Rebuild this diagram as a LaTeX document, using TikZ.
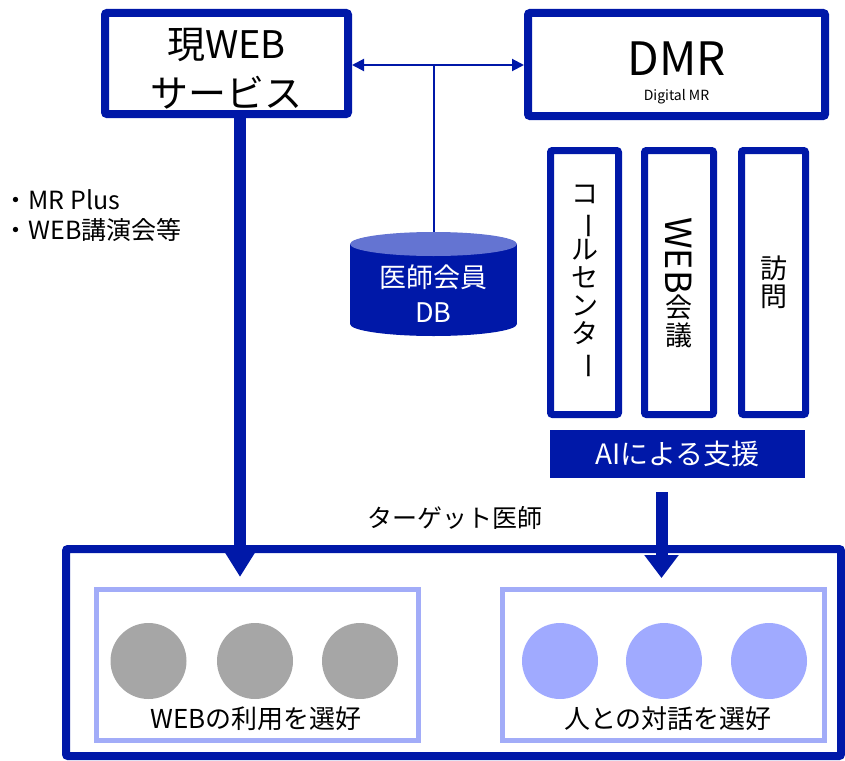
\documentclass[tikz,border=0pt]{standalone}
\usepackage{fontspec}
\setmainfont{Noto Sans CJK JP}
\usepackage{graphicx}
\usepackage{xcolor}
\usepackage{tikz}
\usetikzlibrary{arrows}
\usetikzlibrary{arrows.meta}

\definecolor{dmrblue}{HTML}{0018A8}
\definecolor{dbtop}{HTML}{6474D2}
\definecolor{paleblue}{HTML}{A2ACF8}
\definecolor{dotblue}{HTML}{A0AAFF}
\definecolor{dotgray}{HTML}{A6A6A6}

\begin{document}
\begin{tikzpicture}[x=1pt, y=-1pt,
    mainbox/.style={draw=dmrblue, line width=8pt, rounded corners=2pt, inner sep=0pt},
    channel/.style={draw=dmrblue, line width=7pt, rounded corners=2pt, minimum width=#1, minimum height=264pt, inner sep=0pt, align=center, font=\fontsize{27}{28}\selectfont},
    group/.style={draw=paleblue, line width=5pt, minimum width=322pt, minimum height=151pt, inner sep=0pt},
    person/.style={circle, minimum size=76pt, inner sep=0pt},
    fat/.style={dmrblue, line width=12pt}]
    \useasboundingbox (0,0) rectangle (845,760);

    % top row
    \node[mainbox, minimum width=243pt, minimum height=101pt] (web) at (226.5,63.5) {};
    \node[align=center, font=\fontsize{38}{49}\selectfont] (webname) at (226.5,69) {現WEB\\サービス};
    \node[mainbox, minimum width=297pt, minimum height=103pt] (dmr) at (676.5,64.5) {};
    \node[font=\fontsize{46}{46}\selectfont] (dmrname) at (676.5,59) {DMR};
    \node[font=\fontsize{14}{14}\selectfont] (dmrsub) at (676.5,97) {Digital MR};

    \node[anchor=west, align=left, font=\fontsize{25}{30}\selectfont] (services) at (0,216) {・MR Plus\\・WEB講演会等};

    % database
    \coordinate (hub) at (433.5,65);
    \coordinate (dbtop) at (433.5,232);
    \fill[dmrblue] (350,244) rectangle (517,324);
    \fill[dmrblue] (433.5,324) ellipse [x radius=83.5, y radius=12];
    \fill[dbtop] (433.5,244) ellipse [x radius=83.5, y radius=12];
    \node[white, align=center, font=\fontsize{27}{35}\selectfont] (db) at (433.5,294) {医師会員\\DB};

    \draw[dmrblue, line width=2pt, {Triangle[length=12pt,width=12pt]}-{Triangle[length=12pt,width=12pt]}] (web.east |- hub) -- (dmr.west |- hub);
    \draw[dmrblue, line width=2pt] (hub) -- (dbtop);

    % channels
    \node[channel=68pt] (call) at (584.5,282.5) {コ\\\rotatebox[origin=c]{-90}{ー}\\ル\\セ\\ン\\タ\\\rotatebox[origin=c]{-90}{ー}};
    \node[channel=69pt] (meeting) at (679,282.5) {\rotatebox[origin=c]{-90}{\fontsize{36}{36}\selectfont WEB}\\会\\議};
    \node[channel=64pt] (visit) at (773.5,282.5) {訪\\問};
    \node[fill=dmrblue, text=white, minimum width=255pt, minimum height=48pt, inner sep=0pt, font=\fontsize{28}{28}\selectfont] (ai) at (677.5,454) {AIによる支援};

    % target doctors
    \node[font=\fontsize{25}{25}\selectfont] (target) at (455,518) {ターゲット医師};
    \node[mainbox, minimum width=775pt, minimum height=207pt] (doctors) at (453.5,652.5) {};
    \node[group] (webgroup) at (257,665) {};
    \node[group] (talkgroup) at (663.5,664.5) {};

    \node[person, fill=dotgray] (w1) at (148.5,661) {};
    \node[person, fill=dotgray] (w2) at (255,661) {};
    \node[person, fill=dotgray] (w3) at (360,661) {};
    \node[person, fill=dotblue] (t1) at (560,661) {};
    \node[person, fill=dotblue] (t2) at (664,661) {};
    \node[person, fill=dotblue] (t3) at (769,661) {};

    \node[font=\fontsize{26}{26}\selectfont] (weblabel) at (256,719) {WEBの利用を選好};
    \node[font=\fontsize{26}{26}\selectfont] (talklabel) at (668,719) {人との対話を選好};

    % arrows down
    \coordinate (webin) at (240,577);
    \coordinate (aiout) at (661.5,492);
    \coordinate (talkin) at (661.5,578);
    \draw[fat, -{Triangle[width=36pt,length=31pt]}] (web.south -| webin) -- (webin);
    \draw[fat, -{Triangle[width=33pt,length=23pt]}] (aiout) -- (talkin);
\end{tikzpicture}
\end{document}
